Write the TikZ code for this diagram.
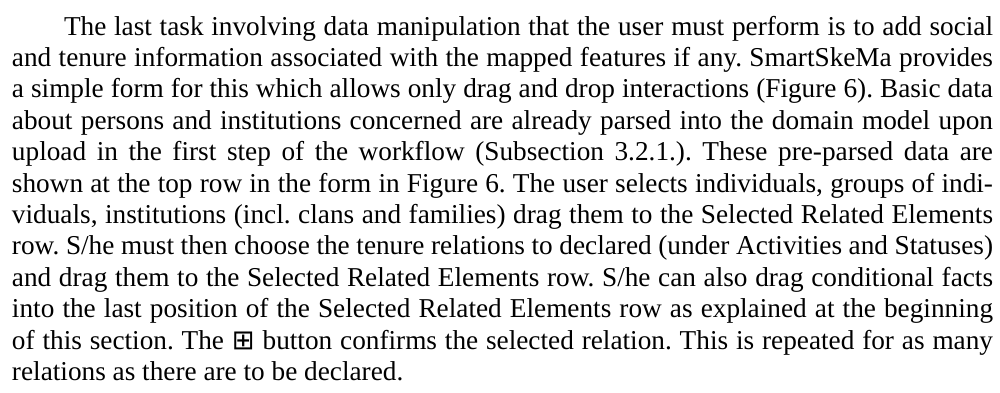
\documentclass[tikz,border=0pt]{standalone}
\usepackage{fontspec}
\setmainfont{Liberation Serif}
\newfontfamily\symfont{DejaVu Sans}
\frenchspacing
\begin{document}
\begin{tikzpicture}[x=0.4255pt,y=-0.4255pt,
  jline/.style={anchor=base west,inner sep=0pt,outer sep=0pt,font=\fontsize{11.6pt}{12pt}\selectfont\frenchspacing}]
\useasboundingbox (0,0) rectangle (1000,392);
\def\W{981\dimexpr0.4255pt\relax}
\node[jline] (l1) at (64,35) {\makebox[929\dimexpr0.4255pt\relax][s]{The last task involving data manipulation that the user must perform is to add social}};
\node[jline] (l2) at (12,66.4) {\makebox[\W][s]{and tenure information associated with the mapped features if any. SmartSkeMa provides}};
\node[jline] (l3) at (12,97.8) {\makebox[\W][s]{a simple form for this which allows only drag and drop interactions (Figure 6). Basic data}};
\node[jline] (l4) at (12,129.2) {\makebox[\W][s]{about persons and institutions concerned are already parsed into the domain model upon}};
\node[jline] (l5) at (12,160.6) {\makebox[\W][s]{upload in the first step of the workflow (Subsection 3.2.1.). These pre-parsed data are}};
\node[jline] (l6) at (12,192.0) {\makebox[\W][s]{shown at the top row in the form in Figure 6. The user selects individuals, groups of indi-}};
\node[jline] (l7) at (12,223.4) {\makebox[\W][s]{viduals, institutions (incl. clans and families) drag them to the Selected Related Elements}};
\node[jline] (l8) at (12,254.8) {\makebox[\W][s]{row. S/he must then choose the tenure relations to declared (under Activities and Statuses)}};
\node[jline] (l9) at (12,286.2) {\makebox[\W][s]{and drag them to the Selected Related Elements row. S/he can also drag conditional facts}};
\node[jline] (l10) at (12,317.6) {\makebox[\W][s]{into the last position of the Selected Related Elements row as explained at the beginning}};
\node[jline] (l11) at (12,349.0) {\makebox[\W][s]{of this section. The {\symfont ⊞} button confirms the selected relation. This is repeated for as many}};
\node[jline] (l12) at (12,380.4) {relations as there are to be declared.};
\end{tikzpicture}
\end{document}
